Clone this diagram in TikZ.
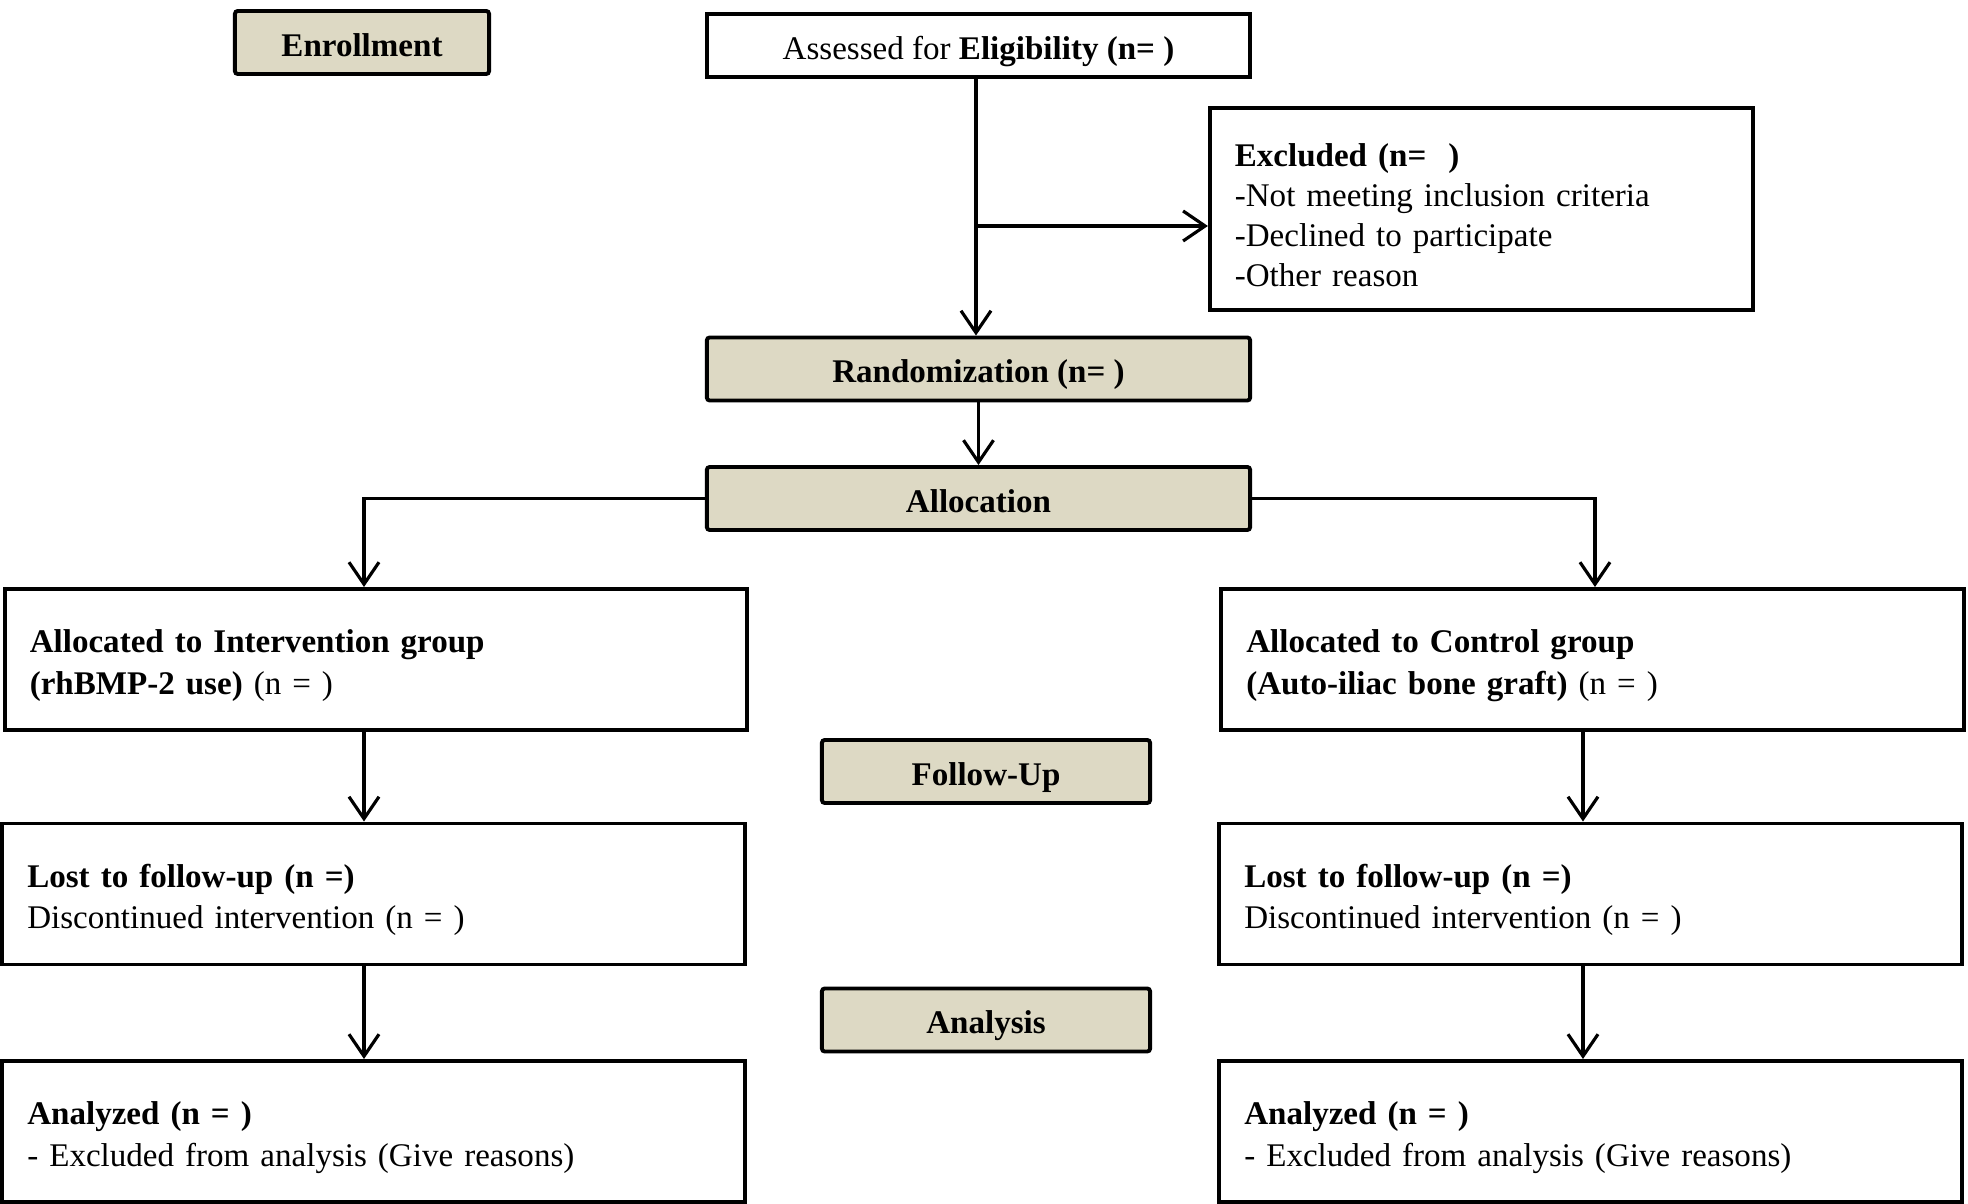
\documentclass[tikz,border=0pt]{standalone}
\usepackage{fontspec}
\setmainfont{Liberation Serif}
\usetikzlibrary{arrows.meta}
\definecolor{stagefill}{HTML}{DDD9C4}

\begin{document}
\begin{tikzpicture}[x=0.01cm,y=-0.01cm,
  font=\fontsize{9.4}{11.8}\selectfont,
  stage/.style={draw,line width=1.1pt,fill=stagefill,rounded corners=0.8pt,
    minimum height=0.63cm,inner sep=0pt,text height=7.9pt,text depth=0pt,
    font=\fontsize{9.4}{11.8}\selectfont\bfseries},
  plainbox/.style={draw,line width=1.1pt,minimum height=0.63cm,inner sep=0pt,
    text height=7.9pt,text depth=0pt},
  infobox/.style={draw,line width=1.1pt,align=left,inner xsep=0.25cm,inner ysep=0pt,
    text width=6.92cm,minimum height=1.41cm,execute at begin node={\rule{0pt}{10pt}}},
  arr/.style={-{Straight Barb[length=2.2mm,width=3mm]},line width=0.9pt}]

\useasboundingbox (0,0) rectangle (1968,1204);

% stages
\node[stage,minimum width=2.54cm] (enrol) at (362,42.5) {Enrollment};
\node[stage,minimum width=5.43cm] (rand) at (978.5,369) {Randomization (n= )};
\node[stage,minimum width=5.43cm] (alloc) at (978.5,498.5) {Allocation};
\node[stage,minimum width=3.28cm] (follow) at (986,771.5) {Follow-Up};
\node[stage,minimum width=3.28cm] (analysis) at (986,1020) {Analysis};

\node[plainbox,minimum width=5.43cm] (elig) at (978.5,45.5)
    {Assessed for \textbf{Eligibility (n= )}};
\node[infobox,text width=4.93cm,minimum height=2.02cm,
    font=\fontsize{9.4}{11.4}\selectfont] (excl) at (1481.5,209)
    {\textbf{Excluded (n=\ \ )}\\-Not meeting inclusion criteria\\
     -Declined to participate\\-Other reason};

% left arm
\node[infobox] (intv) at (376,659.5)
    {\textbf{Allocated to Intervention group}\\\textbf{(rhBMP-2 use)} (n = )};
\node[infobox] (lostL) at (373.5,894)
    {\textbf{Lost to follow-up (n =)}\\Discontinued intervention (n = )};
\node[infobox] (anL) at (373.5,1131.5)
    {\textbf{Analyzed (n = )}\\- Excluded from analysis (Give reasons)};

% right arm
\node[infobox] (ctrl) at (1592.5,659.5)
    {\textbf{Allocated to Control group}\\\textbf{(Auto-iliac bone graft)} (n = )};
\node[infobox] (lostR) at (1590.5,894)
    {\textbf{Lost to follow-up (n =)}\\Discontinued intervention (n = )};
\node[infobox] (anR) at (1590.5,1131.5)
    {\textbf{Analyzed (n = )}\\- Excluded from analysis (Give reasons)};

\coordinate (brk) at (976,226);
\coordinate (colL) at (364,0);
\coordinate (colR) at (1583,0);
\coordinate (dropR) at (1595,0);

\draw[arr] (elig.south -| brk) -- (rand.north -| brk);
\draw[arr] (brk) -- (brk -| excl.west);
\draw[arr] (rand) -- (alloc);
\draw[arr] (alloc.west) -| (colL |- intv.north);
\draw[arr] (alloc.east) -| (dropR |- ctrl.north);
\draw[arr] (intv.south -| colL) -- (lostL.north -| colL);
\draw[arr] (lostL.south -| colL) -- (anL.north -| colL);
\draw[arr] (ctrl.south -| colR) -- (lostR.north -| colR);
\draw[arr] (lostR.south -| colR) -- (anR.north -| colR);
\end{tikzpicture}
\end{document}
